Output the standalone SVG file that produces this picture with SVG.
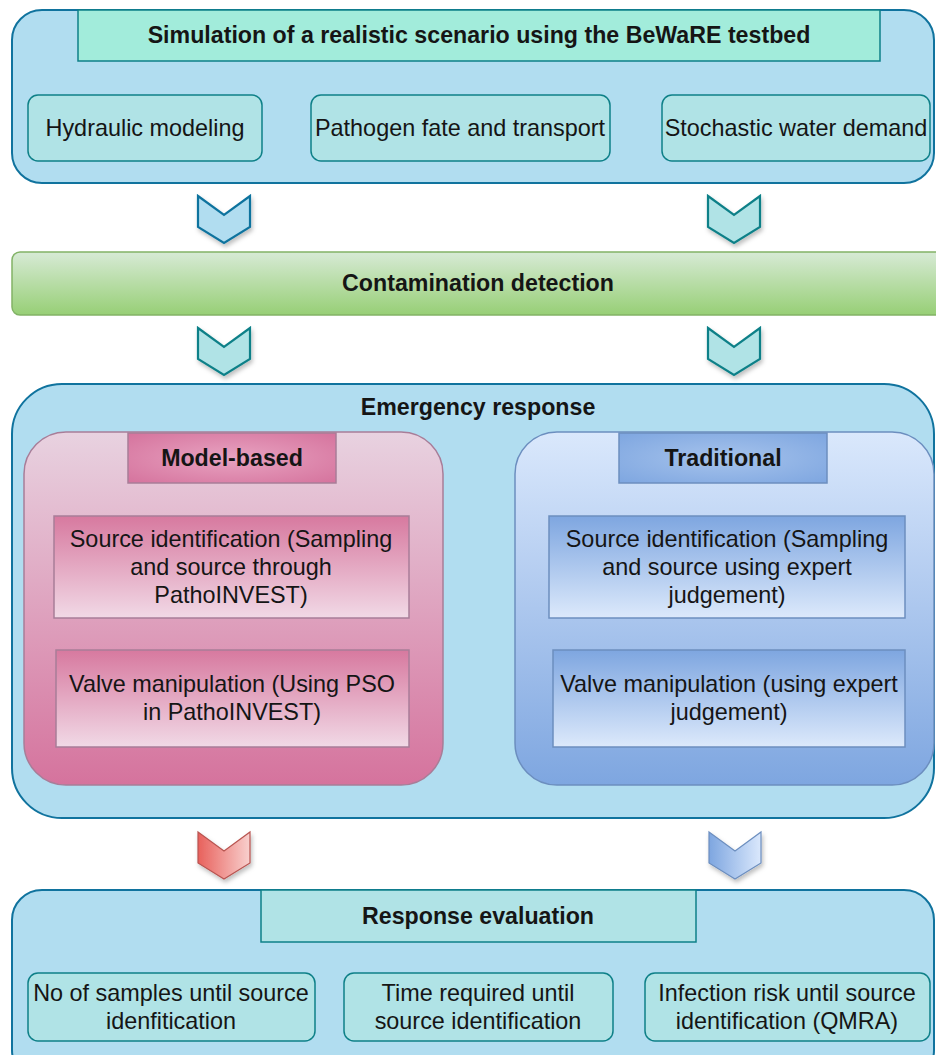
<svg xmlns="http://www.w3.org/2000/svg" xmlns:xlink="http://www.w3.org/1999/xlink" width="936" height="1055" viewBox="0 0 936 1055">
<style>
text{font-family:"Liberation Sans",Arial,sans-serif;fill:#151515;text-anchor:middle}
.b{font-weight:bold;font-size:23.2px}
.n{font-size:23.4px}
.cont{fill:#b1ddf0;stroke:#10739e;stroke-width:2}
.sub{fill:#b0e3e6;stroke:#0e8088;stroke-width:1.5}
.mint{fill:#a2ecdb;stroke:#0e8088;stroke-width:1.5}
.pk{stroke:#a87d98;stroke-width:1.5}
.bl{stroke:#6c8ebf;stroke-width:1.5}
</style>
<defs>
<path id="chev" d="M0,0 L26,19 L52,0 L52,31 L26,47 L0,31 Z"/>
<filter id="sh" x="-30%" y="-30%" width="160%" height="160%">
<feDropShadow dx="1.5" dy="3" stdDeviation="2" flood-color="#000" flood-opacity="0.25"/>
</filter>
<linearGradient id="gGreen" x1="0" y1="0" x2="0" y2="1"><stop offset="0" stop-color="#d7ead5"/><stop offset="1" stop-color="#97cf76"/></linearGradient>
<linearGradient id="gPinkC" x1="0" y1="0" x2="0" y2="1"><stop offset="0" stop-color="#e8d2e0"/><stop offset="1" stop-color="#d5739d"/></linearGradient>
<linearGradient id="gPinkI" x1="0" y1="0" x2="0" y2="1"><stop offset="0" stop-color="#d7799f"/><stop offset="1" stop-color="#f1d9e6"/></linearGradient>
<radialGradient id="gPinkH" cx="0.5" cy="0.5" r="0.7"><stop offset="0" stop-color="#e8a3c1"/><stop offset="1" stop-color="#d5739d"/></radialGradient>
<linearGradient id="gBlueC" x1="0" y1="0" x2="0" y2="1"><stop offset="0" stop-color="#dae8fc"/><stop offset="1" stop-color="#7ea6e0"/></linearGradient>
<linearGradient id="gBlueI" x1="0" y1="0" x2="0" y2="1"><stop offset="0" stop-color="#7ea6e0"/><stop offset="1" stop-color="#dce9fb"/></linearGradient>
<radialGradient id="gBlueH" cx="0.5" cy="0.5" r="0.7"><stop offset="0" stop-color="#a6c3ec"/><stop offset="1" stop-color="#7ea6e0"/></radialGradient>
<linearGradient id="gRed" x1="0" y1="0" x2="1" y2="0"><stop offset="0" stop-color="#e8615c"/><stop offset="1" stop-color="#f8d0ce"/></linearGradient>
<linearGradient id="gBlueArr" x1="0" y1="0" x2="1" y2="0"><stop offset="0" stop-color="#7ea6e0"/><stop offset="1" stop-color="#dae8fc"/></linearGradient>
</defs>

<g id="simulation">
<rect class="cont" x="12" y="10" width="922" height="173" rx="30"/>
<rect class="mint" x="78" y="10" width="802" height="51"/>
<text class="b" x="479" y="43">Simulation of a realistic scenario using the BeWaRE testbed</text>
</g>
<g id="hydraulic">
<rect class="sub" x="28" y="95" width="234" height="66" rx="10"/>
<text class="n" x="145" y="136">Hydraulic modeling</text>
</g>
<g id="pathogen">
<rect class="sub" x="311" y="95" width="299" height="66" rx="10"/>
<text class="n" x="460" y="136">Pathogen fate and transport</text>
</g>
<g id="stochastic">
<rect class="sub" x="662" y="95" width="268" height="66" rx="10"/>
<text class="n" x="796" y="136">Stochastic water demand</text>
</g>

<g id="contamination">
<rect x="12" y="252" width="940" height="63" rx="8" fill="url(#gGreen)" stroke="#82b366" stroke-width="1.5"/>
<text class="b" x="478" y="291">Contamination detection</text>
</g>

<g id="emergency">
<rect class="cont" x="12" y="384" width="922" height="434" rx="50"/>
<text class="b" x="478" y="415">Emergency response</text>
</g>
<g id="model-based">
<rect class="pk" x="24" y="432" width="419" height="353" rx="42" fill="url(#gPinkC)"/>
<rect class="pk" x="128" y="433" width="208" height="50" fill="url(#gPinkH)"/>
<text class="b" x="232" y="466">Model-based</text>
</g>
<g id="mb-source">
<rect class="pk" x="54" y="516" width="355" height="102" fill="url(#gPinkI)"/>
<text class="n" x="231" y="547">Source identification (Sampling</text>
<text class="n" x="231" y="575">and source through</text>
<text class="n" x="231" y="603">PathoINVEST)</text>
</g>
<g id="mb-valve">
<rect class="pk" x="56" y="650" width="353" height="97" fill="url(#gPinkI)"/>
<text class="n" x="232" y="692">Valve manipulation (Using PSO</text>
<text class="n" x="232" y="720">in PathoINVEST)</text>
</g>
<g id="traditional">
<rect class="bl" x="515" y="432" width="419" height="353" rx="42" fill="url(#gBlueC)"/>
<rect class="bl" x="619" y="433" width="208" height="50" fill="url(#gBlueH)"/>
<text class="b" x="723" y="466">Traditional</text>
</g>
<g id="tr-source">
<rect class="bl" x="549" y="516" width="356" height="102" fill="url(#gBlueI)"/>
<text class="n" x="727" y="547">Source identification (Sampling</text>
<text class="n" x="727" y="575">and source using expert</text>
<text class="n" x="727" y="603">judgement)</text>
</g>
<g id="tr-valve">
<rect class="bl" x="553" y="650" width="352" height="97" fill="url(#gBlueI)"/>
<text class="n" x="729" y="692">Valve manipulation (using expert</text>
<text class="n" x="729" y="720">judgement)</text>
</g>

<g id="evaluation">
<rect class="cont" x="12" y="890" width="922" height="190" rx="30"/>
<rect class="sub" x="261" y="890" width="435" height="52"/>
<text class="b" x="478" y="924">Response evaluation</text>
</g>
<g id="samples">
<rect class="sub" x="28" y="973" width="287" height="68" rx="10"/>
<text class="n" x="171" y="1001">No of samples until source</text>
<text class="n" x="171" y="1029">idenfitication</text>
</g>
<g id="time">
<rect class="sub" x="344" y="973" width="269" height="68" rx="10"/>
<text class="n" x="478" y="1001">Time required until</text>
<text class="n" x="478" y="1029">source identification</text>
</g>
<g id="infection">
<rect class="sub" x="645" y="973" width="285" height="68" rx="10"/>
<text class="n" x="787" y="1001">Infection risk until source</text>
<text class="n" x="787" y="1029">identification (QMRA)</text>
</g>

<g id="connectors" filter="url(#sh)" stroke-width="2.2" stroke-linejoin="miter">
<use href="#chev" x="198" y="196" fill="#b1ddf0" stroke="#10739e"/>
<use href="#chev" x="708" y="196" fill="#b0e3e6" stroke="#0e8088"/>
<use href="#chev" x="198" y="328" fill="#b0e3e6" stroke="#0e8088"/>
<use href="#chev" x="708" y="328" fill="#b0e3e6" stroke="#0e8088"/>
<use href="#chev" x="198" y="832" fill="url(#gRed)" stroke="#b85450" stroke-width="1.2"/>
<use href="#chev" x="709" y="832" fill="url(#gBlueArr)" stroke="#6c8ebf" stroke-width="1.2"/>
</g>
</svg>
